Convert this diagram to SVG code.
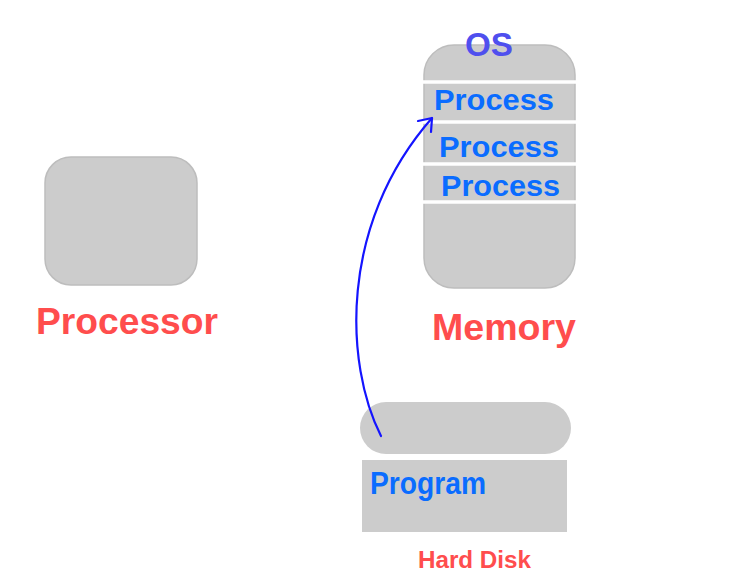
<svg xmlns="http://www.w3.org/2000/svg" width="736" height="585" viewBox="0 0 736 585">
<style>
.box{fill:#cccccc;stroke:#bdbdbd;stroke-width:1.5}
.sep{stroke:#ffffff;stroke-width:3.5}
.lbl{font-family:"Liberation Sans",Arial,sans-serif;font-weight:bold;fill:#ff4d4d}
.proc{font-family:"Liberation Sans",Arial,sans-serif;font-weight:bold;fill:#0a6cff;font-size:30px}
.conn{fill:none;stroke:#1414ff;stroke-width:2.2;stroke-linecap:round;stroke-linejoin:round}
</style>
<rect width="736" height="585" fill="#ffffff"/>
<g id="processor">
<rect class="box" x="45" y="157" width="152" height="128" rx="26" ry="26"/>
<text class="lbl" x="36" y="334" font-size="37" textLength="182" lengthAdjust="spacingAndGlyphs">Processor</text>
</g>
<g id="memory">
<rect class="box" x="424" y="45" width="151" height="243" rx="30" ry="30"/>
<line class="sep" x1="423" y1="82" x2="576" y2="82"/>
<line class="sep" x1="423" y1="122" x2="576" y2="122"/>
<line class="sep" x1="423" y1="164" x2="576" y2="164"/>
<line class="sep" x1="423" y1="202" x2="576" y2="202"/>
<text x="465" y="56" font-family="Liberation Sans,Arial,sans-serif" font-weight="bold" font-size="33" fill="#4f4fee" textLength="48" lengthAdjust="spacingAndGlyphs">OS</text>
<text class="proc" x="434" y="110" textLength="120" lengthAdjust="spacingAndGlyphs">Process</text>
<text class="proc" x="439" y="157" textLength="120" lengthAdjust="spacingAndGlyphs">Process</text>
<text class="proc" x="441" y="196" textLength="119" lengthAdjust="spacingAndGlyphs">Process</text>
<text class="lbl" x="432" y="340" font-size="37" textLength="144" lengthAdjust="spacingAndGlyphs">Memory</text>
</g>
<g id="harddisk">
<rect x="360" y="402" width="211" height="52" rx="26" ry="26" fill="#cccccc"/>
<rect x="362" y="460" width="205" height="72" fill="#cccccc"/>
<text x="370" y="494" font-family="Liberation Sans,Arial,sans-serif" font-weight="bold" font-size="31" fill="#0a6cff" textLength="116" lengthAdjust="spacingAndGlyphs">Program</text>
<text class="lbl" x="418" y="568" font-size="23" textLength="113" lengthAdjust="spacingAndGlyphs">Hard Disk</text>
</g>
<g id="connectors">
<path class="conn" d="M381,436 C345,365 338,225 432,118"/>
<path class="conn" d="M418,121 L432,118 L431,132"/>
</g>
</svg>
